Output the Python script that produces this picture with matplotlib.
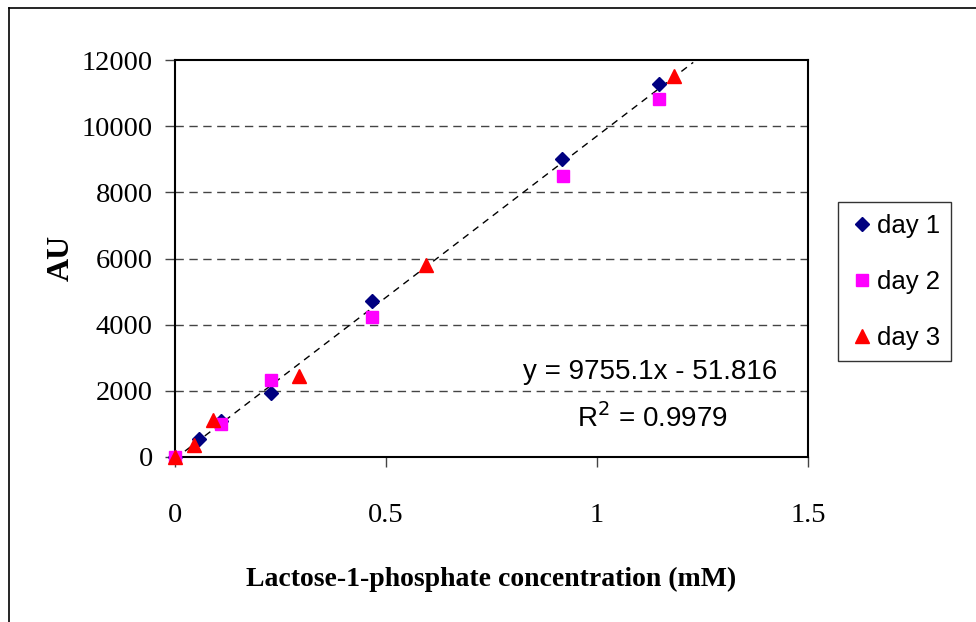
import numpy as np
import matplotlib
matplotlib.use("Agg")
import matplotlib.pyplot as plt
from matplotlib.lines import Line2D

# data
day1_x = [0, 0.057, 0.11, 0.227, 0.467, 0.917, 1.147]
day1_y = [0, 530, 1080, 1935, 4716, 9008, 11276]
day2_x = [0, 0.109, 0.227, 0.467, 0.919, 1.147]
day2_y = [0, 997, 2330, 4232, 8494, 10822]
day3_x = [0, 0.045, 0.09, 0.294, 0.595, 1.183]
day3_y = [0, 363, 1118, 2450, 5804, 11518]

slope = 9755.1
intercept = -51.816
r2 = 0.9979
trend_range = [0, 1.228]

xticks = [0, 0.5, 1, 1.5]
xticklabels = ["0", "0.5", "1", "1.5"]
yticks = [0, 2000, 4000, 6000, 8000, 10000, 12000]

serif = "Liberation Serif"
sans = "Liberation Sans"

fig = plt.figure(figsize=(9.76, 6.22), dpi=100)
ax = fig.add_axes([175/976, 1 - 457/622, (808-175)/976, (457-60)/622])

# gridlines
for yv in yticks[1:-1]:
    ax.axhline(yv, color="#444444", lw=1, ls=(0, (6, 4)), zorder=1)

# trendline
tx = np.array(trend_range)
ax.plot(tx, slope*tx + intercept, color="black", lw=1, ls=(0, (5, 4)), zorder=2)

ax.plot(day1_x, day1_y, ls="none", marker="D", ms=7, color="#000080", label="day 1", zorder=3, clip_on=False)
ax.plot(day2_x, day2_y, ls="none", marker="s", ms=9, color="#FF00FF", label="day 2", zorder=4, clip_on=False)
ax.plot(day3_x, day3_y, ls="none", marker="^", ms=10, color="#FF0000", label="day 3", zorder=5, clip_on=False)

ax.set_xlim(0, 1.5)
ax.set_ylim(0, 12000)
ax.set_xticks(xticks)
ax.set_xticklabels(xticklabels)
ax.set_yticks(yticks)
for sp in ax.spines.values():
    sp.set_linewidth(1.5)
    sp.set_color("black")
ax.tick_params(axis="both", direction="out", length=7, width=1, color="#444444")
ax.tick_params(axis="x", pad=26)
ax.tick_params(axis="y", pad=9)
for lab in ax.get_xticklabels() + ax.get_yticklabels():
    lab.set_fontfamily(serif)
    lab.set_fontsize(20.5)

fig.text(61/976, 1 - 258/622, "AU", rotation=90, ha="center", va="center",
         fontfamily=serif, fontweight="bold", fontsize=23)
ax.set_xlabel("Lactose-1-phosphate concentration (mM)", fontfamily=serif,
              fontweight="bold", fontsize=20, labelpad=28)

ax.text(650/976, 1 - 372/622, "y = 9755.1x - 51.816", transform=fig.transFigure,
        ha="center", va="center", fontfamily=sans, fontsize=20)
ax.text(652/976, 1 - 418/622, "R$^2$ = %.4f" % r2, transform=fig.transFigure,
        ha="center", va="center", fontfamily=sans, fontsize=20)

leg = fig.legend(loc="upper left", bbox_to_anchor=(838/976, 1 - 202/622),
                 prop={"family": sans, "size": 18.5}, frameon=True, fancybox=False,
                 edgecolor="black", handletextpad=0.05, handlelength=1.0,
                 borderpad=0.45, labelspacing=1.25, borderaxespad=0)
leg.get_frame().set_linewidth(1)

# outer chart border (only top and left are visible)
fig.add_artist(Line2D([9/976, 9/976], [0, 1 - 8/622], transform=fig.transFigure, color="black", lw=1.2))
fig.add_artist(Line2D([9/976, 1], [1 - 8/622, 1 - 8/622], transform=fig.transFigure, color="black", lw=1.2))

fig.savefig("out.png", dpi=100)
